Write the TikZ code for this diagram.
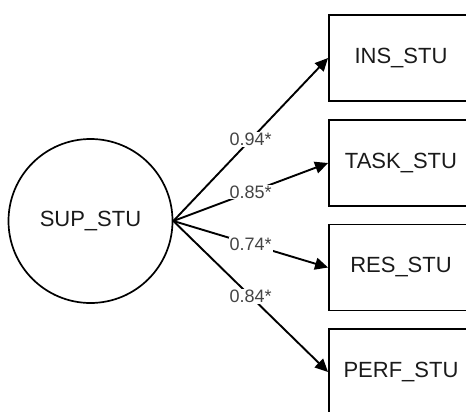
\documentclass[tikz,border=0pt]{standalone}
\usepackage{fontspec}
\setmainfont{Liberation Sans}
\usetikzlibrary{arrows.meta}
\definecolor{labelgray}{HTML}{444444}
\definecolor{textdark}{HTML}{1A1A1A}
\tikzset{
  obsbox/.style={draw, line width=1.9pt, rectangle, minimum width=144pt, minimum height=86pt,
    inner sep=0pt, text=textdark, font=\fontsize{22pt}{24pt}\selectfont},
  latent/.style={draw, line width=1.7pt, circle, minimum size=164pt, inner sep=0pt,
    text=textdark, font=\fontsize{22pt}{24pt}\selectfont},
  arrowline/.style={line width=1.9pt, -{Triangle[length=13pt,width=12pt]}},
  coef/.style={fill=white, inner sep=1pt, text=labelgray, font=\fontsize{18pt}{20pt}\selectfont}
}
\begin{document}
\begin{tikzpicture}[x=1pt,y=-1pt]
\clip (0,0) rectangle (466,412);
\useasboundingbox (0,0) rectangle (466,412);
\node[latent] (sup) at (90.5,221) {SUP\_STU};
\node[obsbox] (ins) at (401,58) {INS\_STU};
\node[obsbox] (task) at (401,163) {TASK\_STU};
\node[obsbox] (res) at (401,267.5) {RES\_STU};
\node[obsbox] (perf) at (401,372) {PERF\_STU};
\draw[arrowline] (sup.east) -- node[coef] {0.94*} (ins.west);
\draw[arrowline] (sup.east) -- node[coef] {0.85*} (task.west);
\draw[arrowline] (sup.east) -- node[coef] {0.74*} (res.west);
\draw[arrowline] (sup.east) -- node[coef] {0.84*} (perf.west);
\end{tikzpicture}
\end{document}
